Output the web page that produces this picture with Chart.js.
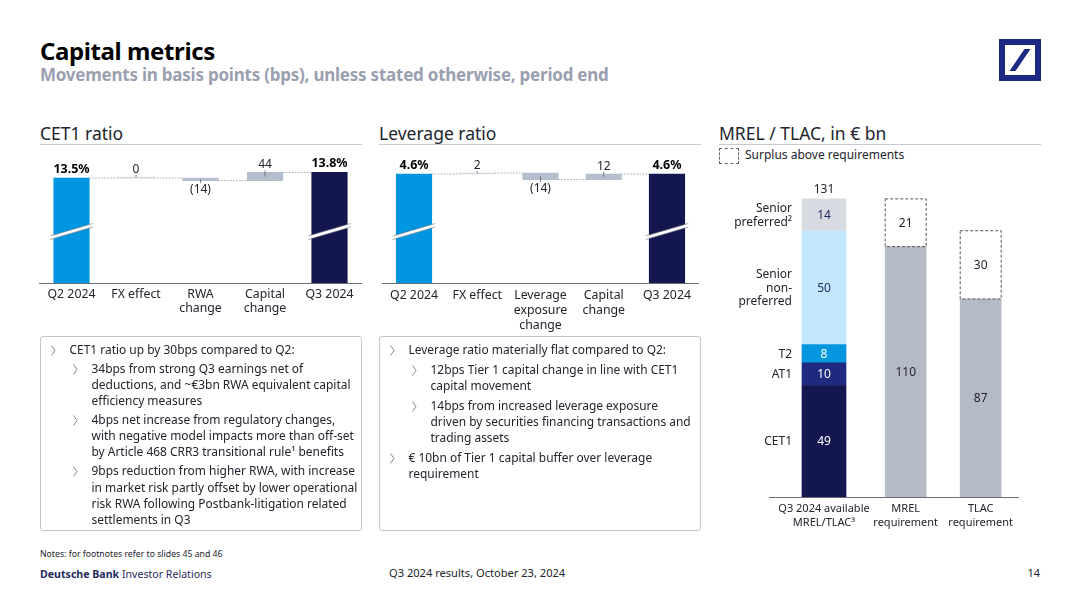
<!DOCTYPE html>
<html>
<head>
<meta charset="utf-8">
<title>Capital metrics</title>
<script src="https://cdn.jsdelivr.net/npm/chart.js@4/dist/chart.umd.js"></script>
<style>
    html, body { margin: 0; padding: 0; background: #fff; }
    body { width: 1080px; height: 607px; position: relative; overflow: hidden; font-family: "Noto Sans", sans-serif; color: #22242e; }
    .abs { position: absolute; white-space: nowrap; }
    canvas { position: absolute; }
    .title { left: 40px; top: 35px; font-size: 24px; line-height: 32px; font-weight: 700; color: #000; letter-spacing: -0.4px; }
    .subtitle { left: 40px; top: 63px; font-size: 17px; line-height: 24px; font-weight: 700; color: #9a9fb0; letter-spacing: -0.23px; }
    .head { top: 121px; font-size: 17.5px; line-height: 24px; color: #22242e; }
    .rule { top: 144px; height: 1px; background: #c8cbd6; }
    .box { top: 336px; width: 320px; height: 193px; border: 1px solid #c4c6cc; border-radius: 3px; }
    .line { position: absolute; white-space: nowrap; font-size: 11.95px; line-height: 16px; }
    .chev { position: absolute; }
    .foot { font-size: 10.6px; line-height: 14px; }
</style>
</head>
<body>

<div class="abs title">Capital metrics</div>
<div class="abs subtitle">Movements in basis points (bps), unless stated otherwise, period end</div>

<svg class="abs" style="left:999px;top:39px" width="42" height="42" viewBox="0 0 42 42">
    <rect x="3" y="3" width="36" height="36" fill="#fff" stroke="#1c2a85" stroke-width="6"></rect>
    <path d="M10.5 32 L16.5 32 L31.5 10 L25.5 10 Z" fill="#1c2a85"></path>
</svg>

<div class="abs head" style="left:40px">CET1 ratio</div>
<div class="abs rule" style="left:40px;width:322px"></div>
<div class="abs head" style="left:379px">Leverage ratio</div>
<div class="abs rule" style="left:379px;width:322px"></div>
<div class="abs head" style="left:719px">MREL / TLAC, in € bn</div>
<div class="abs rule" style="left:719px;width:322px"></div>

<div class="abs" style="left:719px;top:148px;width:18px;height:14px;border:1px dashed #666"></div>
<div class="abs" style="left:745px;top:147px;font-size:12px;line-height:16px">Surplus above requirements</div>

<canvas id="cet1Chart" width="340" height="190" style="left:30px;top:150px"></canvas>
<canvas id="leverageChart" width="340" height="190" style="left:370px;top:150px"></canvas>
<canvas id="availableChart" width="170" height="360" style="left:719px;top:180px"></canvas>
<canvas id="requirementChart" width="170" height="360" style="left:860px;top:180px"></canvas>

<div class="abs box" style="left:40px"></div>
<div class="abs box" style="left:379px"></div>
<div id="notes"></div>

<div class="abs" style="left:40px;top:548px;font-size:8.7px;line-height:13px">Notes: for footnotes refer to slides 45 and 46</div>
<div class="abs foot" style="left:40px;top:567px;color:#1f2a60"><b>Deutsche Bank</b> Investor Relations</div>
<div class="abs foot" style="left:389px;top:566px;font-size:11.1px">Q3 2024 results, October 23, 2024</div>
<div class="abs foot" style="right:40px;top:566px;font-size:11px">14</div>

<script>
var cet1Categories = [ 'Q2 2024', 'FX effect', [ 'RWA', 'change' ], [ 'Capital', 'change' ], 'Q3 2024' ];
var cet1Values = [ 1350, 0, -14, 44, 1380 ];
var cet1Text = [ '13.5%', '0', '(14)', '44', '13.8%' ];

var leverageCategories = [ 'Q2 2024', 'FX effect', [ 'Leverage', 'exposure', 'change' ], [ 'Capital', 'change' ], 'Q3 2024' ];
var leverageValues = [ 460, 2, -14, 12, 460 ];
var leverageText = [ '4.6%', '2', '(14)', '12', '4.6%' ];

var availableCategory = [ [ 'Q3 2024 available', 'MREL/TLAC³' ] ];
var availableNames = [ [ 'CET1' ], [ 'AT1' ], [ 'T2' ], [ 'Senior', 'non-', 'preferred' ], [ 'Senior', 'preferred²' ] ];
var availableValues = [ 49, 10, 8, 50, 14 ];
var availableTotal = 131;

var requirementCategories = [ [ 'MREL', 'requirement' ], [ 'TLAC', 'requirement' ] ];
var requirementValues = [ 110, 87 ];
var surplusValues = [ 21, 30 ];

var noteLinesLeft = [
    [ 0, 'CET1 ratio up by 30bps compared to Q2:', true ],
    [ 1, '34bps from strong Q3 earnings net of', true ],
    [ 1, 'deductions, and ~€3bn RWA equivalent capital' ],
    [ 1, 'efficiency measures' ],
    [ 1, '4bps net increase from regulatory changes,', true ],
    [ 1, 'with negative model impacts more than off-set' ],
    [ 1, 'by Article 468 CRR3 transitional rule¹ benefits' ],
    [ 1, '9bps reduction from higher RWA, with increase', true ],
    [ 1, 'in market risk partly offset by lower operational' ],
    [ 1, 'risk RWA following Postbank-litigation related' ],
    [ 1, 'settlements in Q3' ]
];
var noteLinesRight = [
    [ 0, 'Leverage ratio materially flat compared to Q2:', true ],
    [ 1, '12bps Tier 1 capital change in line with CET1', true ],
    [ 1, 'capital movement' ],
    [ 1, '14bps from increased leverage exposure', true ],
    [ 1, 'driven by securities financing transactions and' ],
    [ 1, 'trading assets' ],
    [ 0, '€ 10bn of Tier 1 capital buffer over leverage', true ],
    [ 0, 'requirement' ]
];

var fontName = '"Noto Sans", sans-serif';
var inkColor = '#22242e';
var chartOrder = [ '#0095e0', '#d3d8e0', '#b4bfce', '#b4bfce', '#14174f' ];
var availableColors = [ '#14174f', '#1e2a80', '#0596e0', '#c3e7fd', '#d8dae1' ];

Chart.defaults.font.family = fontName;
Chart.defaults.font.size = 12;
Chart.defaults.color = inkColor;
Chart.defaults.animation = false;

var placeNotes = function ( lines, left, top, bulletGap ) {
    var holder = document.getElementById( 'notes' );
    var y = top;
    lines.forEach( function ( row, i ) {
        if ( i > 0 ) {
            y += row[ 2 ] ? bulletGap : 16.2;
        }
        var x = left + ( row[ 0 ] ? 51.5 : 29.5 );
        var line = document.createElement( 'div' );
        line.className = 'line';
        line.style.left = x + 'px';
        line.style.top = ( y - 8 ) + 'px';
        line.textContent = row[ 1 ];
        holder.appendChild( line );
        if ( row[ 2 ] ) {
            var chev = document.createElementNS( 'http://www.w3.org/2000/svg', 'svg' );
            chev.setAttribute( 'class', 'chev' );
            chev.setAttribute( 'width', '5' );
            chev.setAttribute( 'height', '11' );
            chev.style.left = ( x - 19 ) + 'px';
            chev.style.top = ( y - 5 ) + 'px';
            chev.innerHTML = '<polyline points="0.5,0.5 4,5.5 0.5,10.5" fill="none" stroke="#666" stroke-width="0.8"></polyline>';
            holder.appendChild( chev );
        }
    } );
};

placeNotes( noteLinesLeft, 40, 349.6, 19 );
placeNotes( noteLinesRight, 379, 349.6, 20 );

// running total turned into floating bars, first and last stand on the axis
var toWaterfall = function ( values, axisMin ) {
    var level = values[ 0 ];
    return values.map( function ( val, i ) {
        if ( i === 0 || i === values.length - 1 ) {
            return [ axisMin, val ];
        }
        var from = level;
        level += val;
        return [ from, level ];
    } );
};

var drawText = function ( ctx, text, x, y, font, color, align ) {
    ctx.font = font;
    ctx.fillStyle = color;
    ctx.textAlign = align || 'center';
    ctx.textBaseline = 'middle';
    ctx.fillText( text, x, y + 0.7 );
};

var waterfallMarks = function ( values, texts ) {
    return {
        id: 'waterfallMarks',
        afterDatasetsDraw: function ( chart ) {
            var ctx = chart.ctx;
            var bars = chart.getDatasetMeta( 0 ).data;
            var yScale = chart.scales.y;
            var level = values[ 0 ];
            ctx.save();

            // dotted connectors
            ctx.strokeStyle = '#8f929c';
            ctx.lineWidth = 0.8;
            ctx.setLineDash( [ 1.5, 1.5 ] );
            bars.forEach( function ( bar, i ) {
                if ( i === bars.length - 1 ) {
                    return;
                }
                if ( i > 0 ) {
                    level += values[ i ];
                }
                var y = yScale.getPixelForValue( level );
                ctx.beginPath();
                ctx.moveTo( bar.x + bar.width / 2, y );
                ctx.lineTo( bars[ i + 1 ].x - bars[ i + 1 ].width / 2, y );
                ctx.stroke();
            } );
            ctx.setLineDash( [] );

            // axis break on the two full bars
            [ bars[ 0 ], bars[ bars.length - 1 ] ].forEach( function ( bar ) {
                var mid = chart.chartArea.bottom - 51.5;
                var half = bar.width / 2 + 3.5;
                ctx.beginPath();
                ctx.moveTo( bar.x - half, mid + 4.5 );
                ctx.lineTo( bar.x + half, mid - 8 );
                ctx.lineTo( bar.x + half, mid - 4.5 );
                ctx.lineTo( bar.x - half, mid + 8 );
                ctx.closePath();
                ctx.fillStyle = '#fff';
                ctx.fill();
                ctx.strokeStyle = '#6f7280';
                ctx.lineWidth = 0.6;
                ctx.beginPath();
                ctx.moveTo( bar.x - half, mid + 4.5 );
                ctx.lineTo( bar.x + half, mid - 8 );
                ctx.moveTo( bar.x - half, mid + 8 );
                ctx.lineTo( bar.x + half, mid - 4.5 );
                ctx.stroke();
            } );

            // value labels with their small leader
            bars.forEach( function ( bar, i ) {
                var props = bar.getProps( [ 'x', 'y', 'base' ] );
                var top = Math.min( props.y, props.base );
                var bottom = Math.max( props.y, props.base );
                if ( i === 0 || i === bars.length - 1 ) {
                    drawText( ctx, texts[ i ], props.x, top - 9.5, 'bold 12.5px ' + fontName, '#000' );
                    return;
                }
                var middle = ( top + bottom ) / 2;
                var down = values[ i ] < 0;
                ctx.strokeStyle = '#555';
                ctx.lineWidth = 0.7;
                ctx.beginPath();
                ctx.moveTo( props.x, middle );
                ctx.lineTo( props.x, down ? bottom + 2.5 : top - 2 );
                ctx.stroke();
                drawText( ctx, texts[ i ], props.x, down ? bottom + 8 : top - 8.5, '12px ' + fontName, inkColor );
            } );
            ctx.restore();
        }
    };
};

var xAxis = function ( fontSize, lineHeight, padding ) {
    return {
        offset: true,
        grid: { display: false, drawTicks: false },
        border: { display: true, color: '#6a6d78', width: 1 },
        ticks: {
            padding: padding,
            autoSkip: false,
            maxRotation: 0,
            minRotation: 0,
            color: inkColor,
            font: { size: fontSize, lineHeight: lineHeight }
        },
        afterFit: function ( scale ) {
            scale.height = 57;
        }
    };
};

var makeWaterfall = function ( canvasId, categories, values, texts, axisMin, axisMax, padLeft, padRight, lineHeight, tickPadding ) {
    return new Chart( document.getElementById( canvasId ), {
        type: 'bar',
        data: {
            labels: categories,
            datasets: [ {
                data: toWaterfall( values, axisMin ),
                backgroundColor: chartOrder,
                barThickness: 35.5,
                minBarLength: 1
            } ]
        },
        options: {
            responsive: false,
            layout: { padding: { left: padLeft, right: padRight, top: 0, bottom: 0 } },
            plugins: { legend: { display: false }, tooltip: { enabled: false } },
            scales: {
                x: xAxis( 12.3, lineHeight, tickPadding ),
                y: { display: false, min: axisMin, max: axisMax }
            }
        },
        plugins: [ waterfallMarks( values, texts ) ]
    } );
};

makeWaterfall( 'cet1Chart', cet1Categories, cet1Values, cet1Text, 789, 1500, 9.25, 8.25, 1.1, 5 );
makeWaterfall( 'leverageChart', leverageCategories, leverageValues, leverageText, 228, 511, 12.4, 11.4, 1.22, 5 );

var stackAxis = { display: false, stacked: true, min: 0, max: 139.3 };
var stackX = function () {
    var axis = xAxis( 11, 1.27, 4.5 );
    axis.stacked = true;
    axis.afterFit = function ( scale ) {
        scale.height = 43;
    };
    return axis;
};

var availableMarks = {
    id: 'availableMarks',
    afterDatasetsDraw: function ( chart ) {
        var ctx = chart.ctx;
        ctx.save();
        availableValues.forEach( function ( val, i ) {
            var bar = chart.getDatasetMeta( i ).data[ 0 ];
            var props = bar.getProps( [ 'x', 'y', 'base', 'width' ] );
            var middle = ( props.y + props.base ) / 2;
            var light = i > 2;
            drawText( ctx, String( val ), props.x, middle, '12px ' + fontName, light ? '#1f2a60' : '#fff' );
            var names = availableNames[ i ];
            names.forEach( function ( name, n ) {
                drawText( ctx, name, props.x - props.width / 2 - 10, middle + ( n - ( names.length - 1 ) / 2 ) * 13.5, '12px ' + fontName, inkColor, 'right' );
            } );
            if ( i === availableValues.length - 1 ) {
                drawText( ctx, String( availableTotal ), props.x, props.y - 10, '12px ' + fontName, inkColor );
            }
        } );
        ctx.restore();
    }
};

var requirementMarks = {
    id: 'requirementMarks',
    afterDatasetsDraw: function ( chart ) {
        var ctx = chart.ctx;
        ctx.save();
        chart.getDatasetMeta( 0 ).data.forEach( function ( bar, i ) {
            var props = bar.getProps( [ 'x', 'y', 'base' ] );
            drawText( ctx, String( requirementValues[ i ] ), props.x, ( props.y + props.base ) / 2, '12px ' + fontName, inkColor );
        } );
        chart.getDatasetMeta( 1 ).data.forEach( function ( bar, i ) {
            var props = bar.getProps( [ 'x', 'y', 'base', 'width' ] );
            ctx.strokeStyle = '#555';
            ctx.lineWidth = 1;
            ctx.setLineDash( [ 3, 2 ] );
            ctx.strokeRect( props.x - props.width / 2, props.y, props.width, props.base - props.y );
            ctx.setLineDash( [] );
            drawText( ctx, String( surplusValues[ i ] ), props.x, ( props.y + props.base ) / 2, '12px ' + fontName, inkColor );
        } );
        ctx.restore();
    }
};

new Chart( document.getElementById( 'availableChart' ), {
    type: 'bar',
    data: {
        labels: availableCategory,
        datasets: availableValues.map( function ( val, i ) {
            return { data: [ val ], backgroundColor: availableColors[ i ], barThickness: 44 };
        } )
    },
    options: {
        responsive: false,
        layout: { padding: { left: 50, right: 10, top: 0, bottom: 0 } },
        plugins: { legend: { display: false }, tooltip: { enabled: false } },
        scales: { x: stackX(), y: stackAxis }
    },
    plugins: [ availableMarks ]
} );

new Chart( document.getElementById( 'requirementChart' ), {
    type: 'bar',
    data: {
        labels: requirementCategories,
        datasets: [
            { data: requirementValues, backgroundColor: '#b5bbc6', barThickness: 41 },
            { data: surplusValues, backgroundColor: 'rgba(0,0,0,0)', barThickness: 41 }
        ]
    },
    options: {
        responsive: false,
        layout: { padding: { left: 8.2, right: 11.8, top: 0, bottom: 0 } },
        plugins: { legend: { display: false }, tooltip: { enabled: false } },
        scales: { x: stackX(), y: stackAxis }
    },
    plugins: [ requirementMarks ]
} );
</script>
</body>
</html>
